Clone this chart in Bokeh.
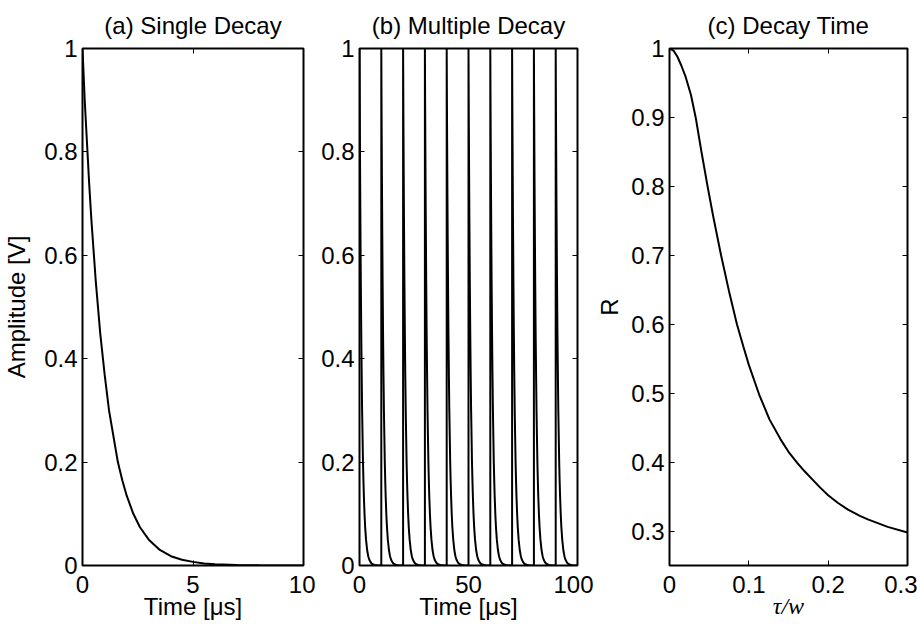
from bokeh.plotting import figure
from bokeh.models import Range1d, FixedTicker, LinearAxis, CustomJSTickFormatter
from bokeh.layouts import row
from bokeh.embed import file_html
from bokeh.resources import INLINE

# ---- data ----
# (a) single decay: time [us] and amplitude [V]
decay_t_us = [0, 0.1, 0.2, 0.3, 0.4, 0.5, 0.6, 0.8, 1.0, 1.2, 1.4, 1.6, 1.8, 2.0,
              2.3, 2.6, 3.0, 3.5, 4.0, 4.5, 5.0, 5.5, 6.0, 7.0, 8.0, 9.0, 10.0]
decay_amp_v = [1.0, 0.90, 0.82, 0.74, 0.67, 0.61, 0.55, 0.45, 0.37, 0.30, 0.25, 0.20,
               0.165, 0.135, 0.10, 0.074, 0.05, 0.03, 0.018, 0.011, 0.007, 0.004,
               0.0025, 0.001, 0.0003, 0.0001, 0.00005]
# (b) multiple decay: pulse start times [us]
pulse_start_us = [0, 10, 20, 30, 40, 50, 60, 70, 80, 90]
# (c) decay time: tau/w and R
ratio_tau_w = [0, 0.005, 0.01, 0.015, 0.02, 0.027, 0.033, 0.04, 0.048, 0.055, 0.065,
               0.075, 0.085, 0.093, 0.1, 0.113, 0.126, 0.14, 0.15, 0.161, 0.17, 0.18,
               0.19, 0.2, 0.212, 0.225, 0.24, 0.25, 0.275, 0.3]
ratio_R = [1.0, 0.997, 0.988, 0.975, 0.96, 0.933, 0.9, 0.852, 0.8, 0.757, 0.7, 0.648,
           0.6, 0.568, 0.541, 0.498, 0.462, 0.433, 0.415, 0.399, 0.387, 0.375,
           0.363, 0.352, 0.341, 0.331, 0.322, 0.317, 0.306, 0.298]

# tick values
a_xticks = [0, 5, 10]
b_xticks = [0, 50, 100]
ab_yticks = [0, 0.2, 0.4, 0.6, 0.8, 1]
c_xticks = [0, 0.1, 0.2, 0.3]
c_yticks = [0.3, 0.4, 0.5, 0.6, 0.7, 0.8, 0.9, 1]

FONT = "Liberation Sans"
FS = "24px"
fmt = CustomJSTickFormatter(code="return String(Math.round(tick*1000)/1000);")


def make_fig(title, xr, yr, w, lb, rb):
    p = figure(output_backend="svg", toolbar_location=None,
               width=w, height=624,
               min_border_left=lb, min_border_right=rb,
               min_border_top=47, min_border_bottom=59,
               x_range=Range1d(*xr), y_range=Range1d(*yr),
               background_fill_color="white", border_fill_color="white")
    p.title.text = title
    p.title.align = "center"
    p.title.text_font = FONT
    p.title.text_font_size = FS
    p.title.text_font_style = "normal"
    p.title.text_color = "black"
    p.title.standoff = 19
    p.grid.visible = False
    p.outline_line_color = "black"
    p.outline_line_width = 2
    p.outline_line_alpha = 1
    return p


def style_axes(p, xticks, yticks, xlabel, ylabel):
    xax = p.below[0]
    yax = p.left[0]
    for ax, ticks in ((xax, xticks), (yax, yticks)):
        ax.ticker = FixedTicker(ticks=ticks)
        ax.formatter = fmt
        ax.axis_line_color = None
        ax.major_tick_in = 5
        ax.major_tick_out = 0
        ax.major_tick_line_width = 1
        ax.major_tick_line_color = "black"
        ax.minor_tick_line_color = None
        ax.major_label_text_font = FONT
        ax.major_label_text_font_size = FS
        ax.major_label_text_color = "black"
        ax.major_label_standoff = 5
        ax.axis_label_text_font = FONT
        ax.axis_label_text_font_size = FS
        ax.axis_label_text_font_style = "normal"
        ax.axis_label_text_color = "black"
    xax.axis_label = xlabel
    xax.major_label_standoff = 10
    xax.axis_label_standoff = -3
    if ylabel:
        yax.axis_label = ylabel
    yax.axis_label_standoff = 11
    blank = CustomJSTickFormatter(code="return '';")
    for side, ticks in (("right", yticks), ("above", xticks)):
        ax = LinearAxis(ticker=FixedTicker(ticks=ticks), formatter=blank,
                        axis_line_color=None, major_tick_in=5, major_tick_out=0,
                        major_tick_line_color="black", minor_tick_line_color=None,
                        major_label_standoff=0)
        p.add_layout(ax, side)
    return xax, yax


# (a)
pa = make_fig("(a) Single Decay", (0, 10), (0, 1), 315, 81, 12)
style_axes(pa, a_xticks, ab_yticks, "Time [μs]", "Amplitude [V]")
pa.line(decay_t_us, decay_amp_v, line_color="black", line_width=2)

# (b)
xs_b, ys_b = [], []
for s in pulse_start_us:
    for t, a in zip(decay_t_us, decay_amp_v):
        xs_b.append(s + t)
        ys_b.append(a)
pb = make_fig("(b) Multiple Decay", (0, 100), (0, 1), 278, 44, 16)
style_axes(pb, b_xticks, ab_yticks, "Time [μs]", None)
pb.line(xs_b, ys_b, line_color="black", line_width=2)

# (c)
pc = make_fig("(c) Decay Time", (0, 0.3), (0.25, 1), 324, 72, 10)
cx, cy = style_axes(pc, c_xticks, c_yticks, "τ/w", "R")
cx.axis_label_text_font = "Liberation Serif"
cx.axis_label_text_font_style = "italic"
cy.axis_label_standoff = 5
pc.line(ratio_tau_w, ratio_R, line_color="black", line_width=2)

layout = row(pa, pb, pc)
open("out.html", "w").write(file_html(layout, INLINE))
